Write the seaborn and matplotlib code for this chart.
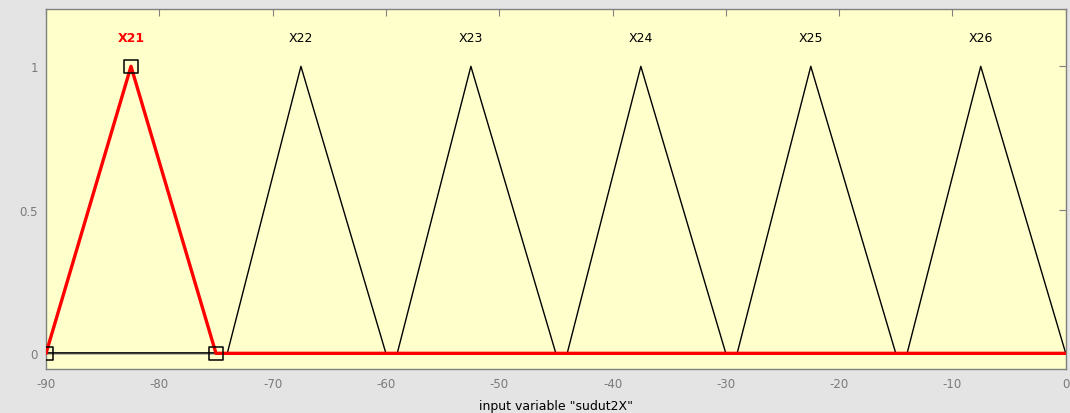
import pandas as pd
import numpy as np
import matplotlib
matplotlib.use("Agg")
import matplotlib.pyplot as plt
import seaborn as sns

# membership functions (trimf) of input variable "sudut2X"
nama = ["X21", "X22", "X23", "X24", "X25", "X26"]
kiri = [-90, -74, -59, -44, -29, -14]
puncak = [-82.5, -67.5, -52.5, -37.5, -22.5, -7.5]
kanan = [-75, -60, -45, -30, -15, 0]
rentang = [-90, 0]
terpilih = "X21"

sns.set_style("white")
plt.rcParams['font.family'] = ['DejaVu Sans']
plt.rcParams['axes.unicode_minus'] = False

fig = plt.figure(figsize=(10.7, 4.14), dpi=100, facecolor="#e4e4e4")
ax = fig.add_axes([0.043, 0.106, 0.953, 0.87])
ax.set_facecolor("#ffffcc")

baris = []
for n, a, b, c in zip(nama, kiri, puncak, kanan):
    xs = [rentang[0], a, b, c, rentang[1]]
    ys = [0, 0, 1, 0, 0]
    for x, y in zip(xs, ys):
        baris.append({"mf": n, "x": x, "mu": y})
data = pd.DataFrame(baris)

lain = data[data["mf"] != terpilih]
for n in nama:
    if n == terpilih:
        continue
    sns.lineplot(data=lain[lain["mf"] == n], x="x", y="mu", color="black",
                 linewidth=1.0, sort=False, estimator=None, ax=ax)

pilih = data[data["mf"] == terpilih]
sns.lineplot(data=pilih, x="x", y="mu", color="red", linewidth=2.4,
             sort=False, estimator=None, ax=ax, zorder=5)

# thin axis line at zero over the first segment
ax.plot(rentang, [0, 0], color="#404040", linewidth=1.0, zorder=4)

# handles of the selected MF
i = nama.index(terpilih)
ax.scatter([kiri[i], puncak[i], kanan[i]], [0, 1, 0], marker="s", s=90,
           facecolors="none", edgecolors="black", linewidths=1.1, zorder=6)

for n, b in zip(nama, puncak):
    if n == terpilih:
        ax.text(b, 1.1, n, color="red", fontweight="bold", ha="center",
                va="center", fontsize=9)
    else:
        ax.text(b, 1.1, n, color="black", ha="center", va="center", fontsize=9)

ax.set_xlim(rentang[0], rentang[1])
ax.set_ylim(-0.055, 1.2)
ax.set_xticks(np.arange(-90, 1, 10))
ax.set_yticks([0, 0.5, 1])
ax.set_yticklabels(["0", "0.5", "1"])
ax.tick_params(direction="in", length=5, colors="#808080", labelsize=8.5,
               top=True, right=True, labelcolor="#7a7a7a", pad=6)
for s in ax.spines.values():
    s.set_color("#808080")
    s.set_linewidth(1.0)
ax.set_xlabel('input variable "sudut2X"', fontsize=9, color="black", labelpad=6)
ax.set_ylabel("")

fig.savefig("out.png", dpi=100, facecolor=fig.get_facecolor())
